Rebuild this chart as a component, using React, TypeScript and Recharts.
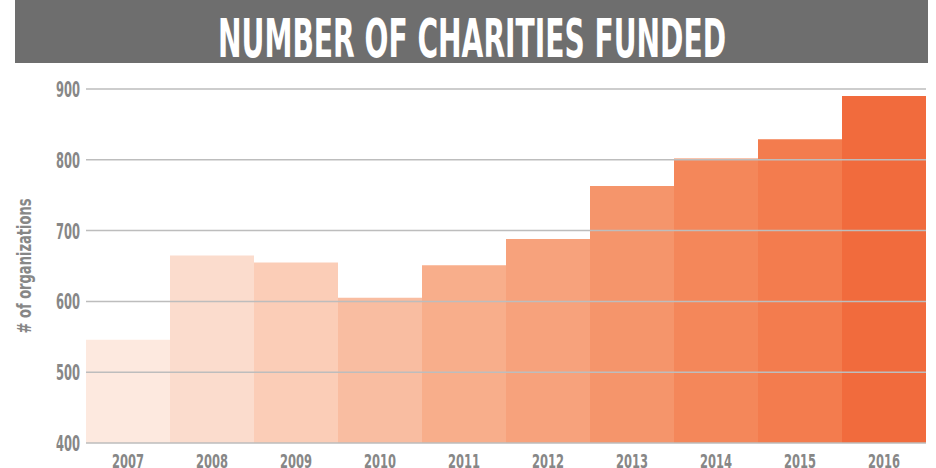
import React from "react"
import { BarChart, Bar, XAxis, YAxis, Cell, ReferenceLine } from "recharts"

const years = ["2007", "2008", "2009", "2010", "2011", "2012", "2013", "2014", "2015", "2016"]
const charities = [546, 665, 655, 605, 651, 688, 763, 802, 829, 890]
const barColors = [
  "#fde9df", "#fbdccd", "#fbcdb7", "#f9bda1", "#f8ae8b",
  "#f7a27c", "#f5956b", "#f4875a", "#f37c4e", "#f16b3d",
]
const yTicks = [400, 500, 600, 700, 800, 900]

const data = years.map((year, i) => ({ year, value: charities[i] }))

const FONT = "'DejaVu Sans Condensed', 'DejaVu Sans', sans-serif"
const GREY = "#878787"

// narrow condensed tick text, squeezed to look like the original's display font
const YearTick = ({ x, y, payload }: any) => (
  <text
    x={x}
    y={y + 20}
    textAnchor="middle"
    fill={GREY}
    fontFamily={FONT}
    fontWeight="bold"
    fontSize={20}
    textLength={32}
    lengthAdjust="spacingAndGlyphs"
  >
    {payload.value}
  </text>
)

const ValueTick = ({ x, y, payload }: any) => (
  <text
    x={x - 24}
    y={y + 8}
    textAnchor="start"
    fill={GREY}
    fontFamily={FONT}
    fontWeight="bold"
    fontSize={21}
    textLength={24}
    lengthAdjust="spacingAndGlyphs"
  >
    {payload.value}
  </text>
)

const AxisLabel = ({ viewBox }: any) => {
  const cy = viewBox.y + viewBox.height / 2
  return (
    <text
      x={31}
      y={cy}
      transform={`rotate(-90, 31, ${cy})`}
      textAnchor="middle"
      fill={GREY}
      fontFamily={FONT}
      fontWeight="bold"
      fontSize={19}
      textLength={135}
      lengthAdjust="spacingAndGlyphs"
    >
      # of organizations
    </text>
  )
}

export default function App() {
  return (
    <div style={{ position: "absolute", left: 0, top: 0, width: 936, height: 468, background: "#fff" }}>
      <svg width={936} height={64} style={{ position: "absolute", left: 0, top: 0 }}>
        <rect x={15} y={0} width={913} height={63} fill="#6e6e6e" />
        <text
          x={472}
          y={57}
          textAnchor="middle"
          fill="#fff"
          fontFamily={FONT}
          fontWeight="bold"
          fontSize={54}
          textLength={508}
          lengthAdjust="spacingAndGlyphs"
        >
          NUMBER OF CHARITIES FUNDED
        </text>
      </svg>
      <BarChart
        width={936}
        height={468}
        data={data}
        margin={{ top: 89, right: 10, bottom: 0, left: 0 }}
        barCategoryGap={0}
        style={{ position: "absolute", left: 0, top: 0 }}
      >
        <XAxis
          dataKey="year"
          axisLine={false}
          tickLine={false}
          tickSize={0}
          tickMargin={5}
          height={25}
          tick={<YearTick />}
        />
        <YAxis
          domain={[400, 900]}
          ticks={yTicks}
          width={86}
          axisLine={false}
          tickLine={false}
          tickSize={0}
          tickMargin={6}
          allowDataOverflow
          tick={<ValueTick />}
          label={<AxisLabel />}
        />
        <Bar dataKey="value" isAnimationActive={false}>
          {data.map((d, i) => (
            <Cell key={d.year} fill={barColors[i]} />
          ))}
        </Bar>
        {yTicks.map((t) => (
          <ReferenceLine key={t} y={t} stroke="#bdbdbd" strokeWidth={1.5} />
        ))}
      </BarChart>
    </div>
  )
}
